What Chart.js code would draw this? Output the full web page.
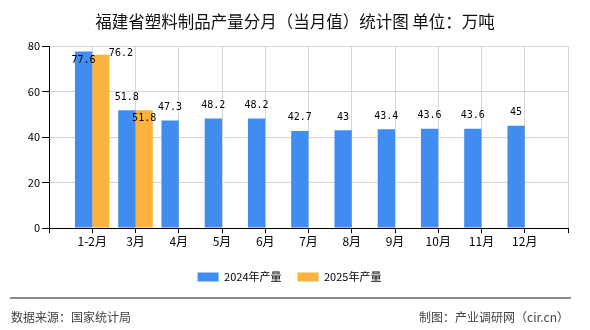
<!DOCTYPE html>
<html>
<head>
<meta charset="utf-8">
<script src="https://cdn.jsdelivr.net/npm/chart.js@4.4.1/dist/chart.umd.min.js"></script>
<style>
  html, body { margin: 0; padding: 0; background: #fff; }
  #wrap { position: relative; width: 590px; height: 330px; overflow: hidden; background: #fff; }
  #c { position: absolute; left: 0; top: 0; }
  .txt { position: absolute; white-space: nowrap; font-family: "Noto Sans CJK SC", sans-serif; }
  #title { left: 0; width: 590px; top: 10px; line-height: 22px; text-align: center; font-size: 16.5px; color: #111; }
  #sep { position: absolute; left: 10px; top: 297px; width: 561px; height: 2px; background: #8c8c8c; }
  #srcL { left: 11px; top: 308px; line-height: 17px; font-size: 12px; color: #444; }
  #srcR { right: 21px; top: 308px; line-height: 17px; font-size: 12px; color: #444; }
</style>
</head>
<body>
<div id="wrap">
  <canvas id="c" width="590" height="330"></canvas>
  <div class="txt" id="title">福建省塑料制品产量分月（当月值）统计图 单位：万吨</div>
  <div id="sep"></div>
  <div class="txt" id="srcL">数据来源：国家统计局</div>
  <div class="txt" id="srcR">制图：产业调研网（cir.cn）</div>
</div>
<script>
const categories = ['1-2月', '3月', '4月', '5月', '6月', '7月', '8月', '9月', '10月', '11月', '12月'];
const values2024 = [77.6, 51.8, 47.3, 48.2, 48.2, 42.7, 43, 43.4, 43.6, 43.6, 45];
const values2025 = [76.2, 51.8, null, null, null, null, null, null, null, null, null];
const seriesNames = ['2024年产量', '2025年产量'];
const yTicks = [0, 20, 40, 60, 80];

// pad with empty slots at both ends so labels sit on the ticks
const padLabels = [''].concat(categories, ['']);
const pad = arr => [null].concat(arr, [null]);

// label nudges (style only) for crowded first two groups: key = datasetIndex-dataIndex
const labelNudge = { '0-1': [0, 8.5], '1-1': [20, -1.5], '1-2': [0, 8] };

const valueLabels = {
  id: 'valueLabels',
  afterDatasetsDraw(chart) {
    const ctx = chart.ctx;
    ctx.save();
    ctx.font = '10px "DejaVu Sans Mono", monospace';
    ctx.fillStyle = '#000';
    ctx.textAlign = 'center';
    ctx.textBaseline = 'middle';
    chart.data.datasets.forEach((ds, di) => {
      const meta = chart.getDatasetMeta(di);
      meta.data.forEach((el, i) => {
        const v = ds.data[i];
        if (v === null || v === undefined) return;
        const n = labelNudge[di + '-' + i] || [0, -13];
        ctx.fillText(String(v), el.x + n[0], el.y + n[1]);
      });
    });
    ctx.restore();
  }
};

new Chart(document.getElementById('c'), {
  type: 'bar',
  data: {
    labels: padLabels,
    datasets: [
      { label: seriesNames[0], data: pad(values2024), backgroundColor: 'rgb(65,140,240)', borderWidth: 0, categoryPercentage: 0.8, barPercentage: 1.0 },
      { label: seriesNames[1], data: pad(values2025), backgroundColor: 'rgb(252,179,62)', borderWidth: 0, categoryPercentage: 0.8, barPercentage: 1.0 }
    ]
  },
  options: {
    responsive: false,
    animation: false,
    devicePixelRatio: 1,
    layout: { padding: { top: 46, left: 11, right: 22, bottom: 37.5 } },
    scales: {
      x: {
        type: 'category',
        offset: false,
        grid: { offset: false, color: '#d6d6d6', tickColor: '#000', tickLength: 5, lineWidth: 1 },
        border: { color: '#000', width: 1 },
        ticks: { autoSkip: false, maxRotation: 0, padding: 1, color: '#000', font: { family: '"Noto Sans CJK SC", sans-serif', size: 12 } },
        afterFit(s) { s.height += 6; }
      },
      y: {
        min: 0, max: 80,
        afterBuildTicks(s) { s.ticks = yTicks.map(v => ({ value: v })); },
        grid: { color: '#d6d6d6', tickColor: '#000', tickLength: 7 },
        border: { color: '#000', width: 1 },
        ticks: { padding: 2, color: '#000', font: { family: '"Noto Sans CJK SC", sans-serif', size: 11 } },
        afterFit(s) { s.width = 38; }
      }
    },
    plugins: {
      title: { display: false },
      tooltip: { enabled: false },
      legend: {
        position: 'bottom',
        labels: { boxWidth: 21, boxHeight: 9, padding: 16, color: '#000', font: { family: '"Noto Sans CJK SC", sans-serif', size: 11 } }
      }
    }
  },
  plugins: [valueLabels]
});
</script>
</body>
</html>
